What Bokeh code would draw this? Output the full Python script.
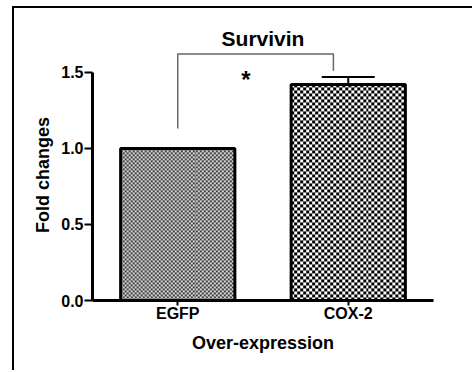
import numpy as np
from bokeh.plotting import figure
from bokeh.models import (FactorRange, Range1d, Whisker, TeeHead, ColumnDataSource,
                          Label, FixedTicker, CustomJSTickFormatter)
from bokeh.embed import file_html
from bokeh.resources import INLINE

groups = ["EGFP", "COX-2"]
values = [1.0, 1.42]
errors = [0.0, 0.05]
bracket_x = [("EGFP", 0.0), ("EGFP", 0.0), ("COX-2", -0.087), ("COX-2", -0.087)]
bracket_y = [1.13, 1.62, 1.62, 1.51]
y_ticks = [0.0, 0.5, 1.0, 1.5]

FONT = "Liberation Sans"
BAR_W = 0.67
PX_PER_UNIT_Y = 152   # frame pixels per y unit (texture resolution)
BAR_PX_W = 115        # frame pixels across a bar (texture resolution)

# texture styles per bar: (square size px, dark rgb, light rgb)
textures = [(2, (64, 64, 64), (216, 216, 216)), (3, (0, 0, 0), (255, 255, 255))]


def checker(h, w, sq, dark, light):
    ii, jj = np.indices((h, w))
    chk = ((ii // sq + jj // sq) % 2).astype(bool)
    img = np.empty((h, w), dtype=np.uint32)
    v = img.view(dtype=np.uint8).reshape((h, w, 4))
    for c in range(3):
        v[..., c] = np.where(chk, light[c], dark[c])
    v[..., 3] = 255
    return img


p = figure(x_range=FactorRange(*groups, range_padding=0), y_range=Range1d(0, 1.65),
           width=460, height=364, output_backend="svg", toolbar_location=None,
           min_border_left=78, min_border_right=41, min_border_top=41, min_border_bottom=72,
           title="Survivin",
           styles={"border-left": "2px solid black", "border-top": "2px solid black",
                   "margin-left": "12px", "margin-top": "6px"})

p.title.align = "center"
p.title.text_font = FONT
p.title.text_font_size = "21px"
p.title.text_font_style = "bold"
p.title.text_color = "black"
p.title.offset = 0
p.title.standoff = 0

for g, val, (sq, dark, light) in zip(groups, values, textures):
    h_px = int(round(val * PX_PER_UNIT_Y))
    p.image_rgba(image=[checker(h_px, BAR_PX_W, sq, dark, light)],
                 x=[(g, -BAR_W / 2)], y=[0], dw=[BAR_W], dh=[val])

p.vbar(x=groups, top=values, width=BAR_W, fill_color=None, line_color="black", line_width=3)

esrc = ColumnDataSource(dict(x=groups[1:], lower=values[1:],
                             upper=[v + e for v, e in zip(values[1:], errors[1:])]))
w = Whisker(base="x", lower="lower", upper="upper", source=esrc, dimension="height",
            line_color="black", line_width=2,
            upper_head=TeeHead(size=53, line_color="black", line_width=2), lower_head=None)
p.add_layout(w)

p.line(x=bracket_x, y=bracket_y, line_color="#666666", line_width=1.5)
p.add_layout(Label(x=0.9, y=1.45, text="*", text_font=FONT, text_font_size="24px",
                   text_font_style="bold", text_color="black",
                   text_align="center", text_baseline="middle"))

p.xgrid.visible = False
p.ygrid.visible = False
p.outline_line_color = None
p.background_fill_color = "white"
p.border_fill_color = "white"

p.yaxis.bounds = (0, 1.5)
p.yaxis.ticker = FixedTicker(ticks=y_ticks)
p.yaxis.formatter = CustomJSTickFormatter(code="return tick.toFixed(1);")
p.yaxis.axis_label = "Fold changes"
p.xaxis.axis_label = "Over-expression"

for ax in (p.xaxis, p.yaxis):
    ax.axis_line_width = 3
    ax.axis_line_color = "black"
    ax.major_tick_line_width = 2
    ax.major_tick_line_color = "black"
    ax.major_tick_in = 0
    ax.minor_tick_line_color = None
    ax.major_label_text_font = FONT
    ax.major_label_text_font_size = "16px"
    ax.major_label_text_font_style = "bold"
    ax.major_label_text_color = "black"
    ax.axis_label_text_font = FONT
    ax.axis_label_text_font_size = "18px"
    ax.axis_label_text_font_style = "bold"
    ax.axis_label_text_color = "black"

p.yaxis.major_tick_out = 8
p.xaxis.major_tick_out = 5
p.yaxis.major_label_standoff = 1
p.xaxis.major_label_standoff = -1
p.yaxis.axis_label_standoff = 5
p.xaxis.axis_label_standoff = 8

open("out.html", "w").write(file_html(p, INLINE))
